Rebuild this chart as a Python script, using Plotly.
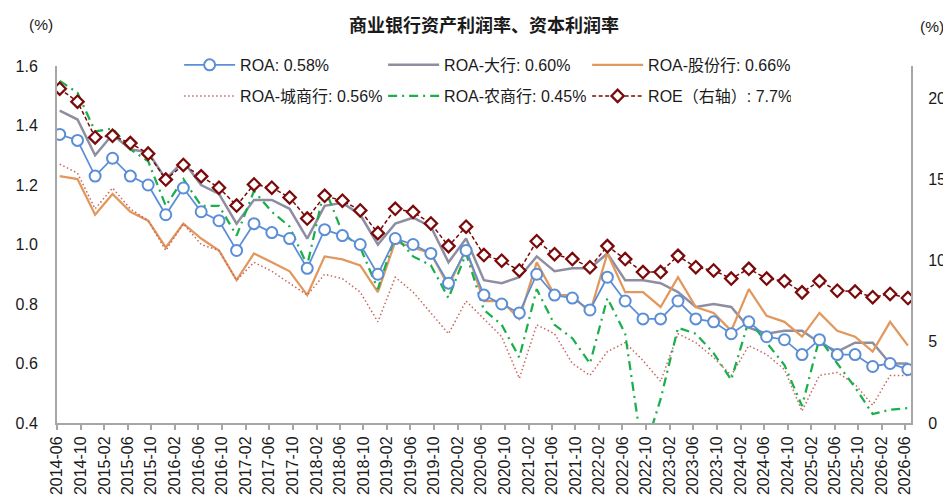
import plotly.graph_objects as go

# quarterly dates, 2014-06 .. 2026-06
years = list(range(2014, 2027))
months = [3, 6, 9, 12]
dates = [f"{y}-{m:02d}-15" for y in years for m in months][1:-2]

roa = [1.37, 1.35, 1.23, 1.29, 1.23, 1.20, 1.10, 1.19, 1.11, 1.08, 0.98, 1.07, 1.04,
       1.02, 0.92, 1.05, 1.03, 1.00, 0.90, 1.02, 1.00, 0.97, 0.87, 0.98, 0.83, 0.80,
       0.77, 0.90, 0.83, 0.82, 0.78, 0.89, 0.81, 0.75, 0.75, 0.81, 0.75, 0.74, 0.70,
       0.74, 0.69, 0.68, 0.63, 0.68, 0.63, 0.63, 0.59, 0.60, 0.58]
roa_big = [1.45, 1.42, 1.30, 1.37, 1.32, 1.31, 1.22, 1.28, 1.20, 1.17, 1.07, 1.15, 1.15,
           1.12, 1.02, 1.13, 1.14, 1.10, 1.00, 1.07, 1.09, 1.06, 0.94, 1.02, 0.88, 0.87,
           0.89, 0.96, 0.91, 0.92, 0.92, 0.97, 0.88, 0.88, 0.87, 0.84, 0.79, 0.80, 0.79,
           0.72, 0.70, 0.71, 0.71, 0.67, 0.64, 0.67, 0.67, 0.60, 0.60]
roa_jsb = [1.23, 1.22, 1.10, 1.17, 1.11, 1.08, 0.99, 1.07, 1.02, 0.98, 0.88, 0.97, 0.94,
           0.91, 0.83, 0.96, 0.95, 0.93, 0.84, 1.01, 0.99, 0.97, 0.86, 0.985, 0.81, 0.81,
           0.75, 0.94, 0.83, 0.83, 0.77, 0.97, 0.84, 0.84, 0.79, 0.89, 0.79, 0.77, 0.71,
           0.85, 0.76, 0.74, 0.69, 0.77, 0.71, 0.69, 0.64, 0.74, 0.66]
roa_city = [1.27, 1.24, 1.12, 1.19, 1.12, 1.08, 0.98, 1.07, 1.00, 0.98, 0.88, 0.94, 0.91,
            0.87, 0.83, 0.90, 0.885, 0.84, 0.74, 0.89, 0.84, 0.77, 0.70, 0.81, 0.75, 0.69,
            0.55, 0.73, 0.70, 0.60, 0.56, 0.64, 0.67, 0.61, 0.54, 0.70, 0.67, 0.62, 0.56,
            0.66, 0.63, 0.58, 0.44, 0.56, 0.57, 0.53, 0.46, 0.56, 0.56]
roa_rural = [1.55, 1.51, 1.38, 1.39, 1.32, 1.28, 1.13, 1.22, 1.13, 1.13, 1.03, 1.18, 1.11,
             1.06, 0.93, 1.19, 1.04, 0.99, 0.85, 1.03, 0.96, 0.93, 0.82, 0.97, 0.78, 0.73,
             0.62, 0.85, 0.73, 0.685, 0.60, 0.82, 0.70, 0.29, 0.48, 0.72, 0.70, 0.635, 0.545,
             0.745, 0.67, 0.595, 0.457, 0.685, 0.60, 0.52, 0.43, 0.445, 0.45]
roe = [20.6, 19.8, 17.6, 17.7, 17.25, 16.6, 15.0, 15.9, 15.2, 14.5, 13.4, 14.7, 14.5,
       13.9, 12.6, 14.0, 13.7, 13.1, 11.7, 13.2, 13.0, 12.3, 10.9, 12.1, 10.35, 10.0,
       9.4, 11.2, 10.4, 10.1, 9.6, 10.9, 10.1, 9.3, 9.3, 10.3, 9.6, 9.4, 8.9, 9.5, 8.9,
       8.75, 8.05, 8.75, 8.15, 8.1, 7.75, 7.95, 7.7]

FONT = "Liberation Sans, Arial, Noto Sans CJK SC"
AX = "#A6A6A6"

fig = go.Figure()
fig.add_trace(go.Scatter(x=dates, y=roa_big, name="ROA-大行: 0.60%", mode="lines",
                         line=dict(color="#8E8EA3", width=2.5),
                         legend="legend", legendrank=2))
fig.add_trace(go.Scatter(x=dates, y=roa_jsb, name="ROA-股份行: 0.66%", mode="lines",
                         line=dict(color="#E2975C", width=2.25),
                         legend="legend", legendrank=3))
fig.add_trace(go.Scatter(x=dates, y=roa_city, name="ROA-城商行: 0.56%", mode="lines",
                         line=dict(color="#C86660", width=1.5, dash="1.5px,2.5px"),
                         legend="legend2", legendrank=1))
fig.add_trace(go.Scatter(x=dates, y=roa_rural, name="ROA-农商行: 0.45%", mode="lines",
                         line=dict(color="#1AAF4B", width=2.25, dash="9px,5px,2px,5px"),
                         legend="legend2", legendrank=2))
fig.add_trace(go.Scatter(x=dates, y=roa, name="ROA: 0.58%", mode="lines+markers",
                         line=dict(color="#5B8ED6", width=1.75),
                         marker=dict(symbol="circle", size=11, color="white",
                                     line=dict(color="#5B8ED6", width=2)),
                         legend="legend", legendrank=1))
fig.add_trace(go.Scatter(x=dates, y=roe, name="ROE（右轴）: 7.7%", mode="lines+markers",
                         yaxis="y2",
                         line=dict(color="#7A0A0A", width=1.5, dash="4px,2.5px"),
                         marker=dict(symbol="diamond", size=9.5, color="white",
                                     line=dict(color="#7A0A0A", width=2.25)),
                         legend="legend2", legendrank=3))

leg = dict(orientation="h", xref="paper", yref="paper", x=0.143, xanchor="left",
           yanchor="middle", entrywidth=138, entrywidthmode="pixels", itemwidth=51,
           bgcolor="rgba(0,0,0,0)", font=dict(family=FONT, size=16, color="#1a1a1a"),
           tracegroupgap=0, traceorder="normal")

# the page body adds an 8px margin, so the figure is sized 8px smaller
fig.update_layout(
    width=943, height=496,
    margin=dict(l=49, r=40, t=58, b=81),
    paper_bgcolor="white", plot_bgcolor="white",
    font=dict(family=FONT, size=16, color="#1a1a1a"),
    title=dict(text="<b>商业银行资产利润率、资本利润率</b>", x=0.5, xref="paper",
               xanchor="center", y=0.964, yref="container", yanchor="middle",
               font=dict(family="Noto Sans CJK SC", size=18, color="#1a1a1a")),
    legend=dict(leg, y=1.003),
    legend2=dict(leg, y=0.916),
    xaxis=dict(type="date", range=["2014-06-01", "2026-07-01"], tick0="2014-06-01",
               dtick="M4", tickformat="%Y-%m", tickangle=-90, showgrid=False,
               showline=True, linecolor=AX, linewidth=2, ticks="outside",
               ticklen=5, tickwidth=1.5, tickcolor=AX, zeroline=False,
               tickfont=dict(size=16), automargin=False),
    yaxis=dict(range=[0.4, 1.6], dtick=0.2, tickformat=".1f", showgrid=False,
               showline=True, linecolor=AX, linewidth=2, ticks="",
               ticklabelstandoff=14, zeroline=False, tickfont=dict(size=16),
               automargin=False),
    yaxis2=dict(range=[0, 22], dtick=5, overlaying="y", side="right", showgrid=False,
                showline=True, linecolor=AX, linewidth=2, ticks="",
                ticklabelstandoff=12, zeroline=False, tickfont=dict(size=16),
                automargin=False),
    annotations=[
        dict(text="(%)", x=-0.019, y=1.115, xref="paper", yref="paper",
             showarrow=False, xanchor="center", yanchor="middle", font=dict(size=15.5)),
        dict(text="(%)", x=1.025, y=1.112, xref="paper", yref="paper",
             showarrow=False, xanchor="center", yanchor="middle", font=dict(size=15.5)),
    ],
)

fig.write_html("out.html")
